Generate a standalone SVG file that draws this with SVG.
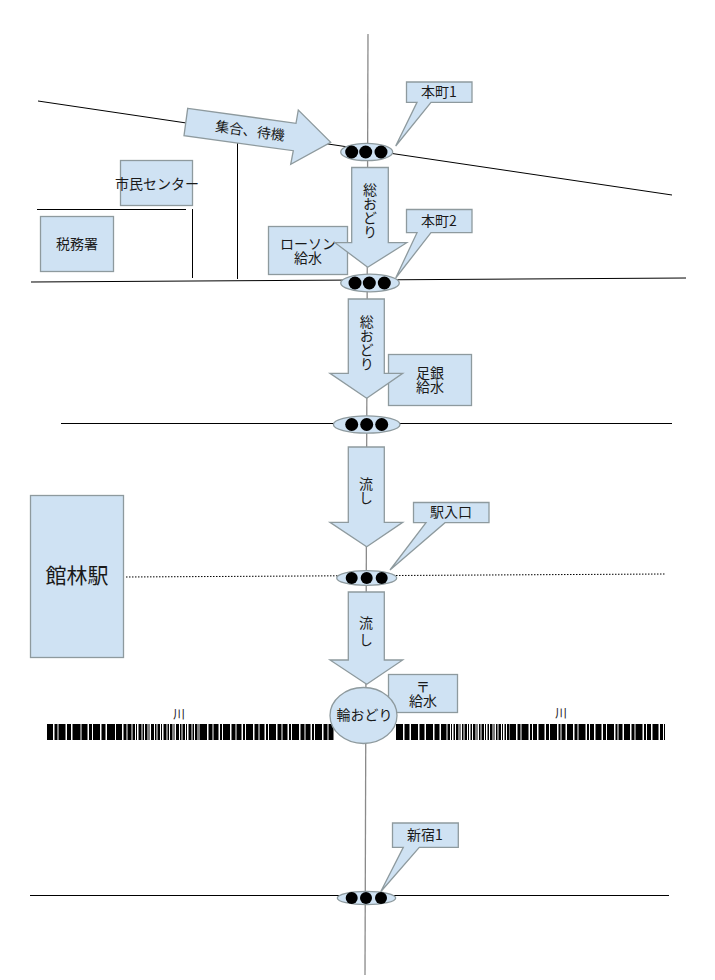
<svg xmlns="http://www.w3.org/2000/svg" width="715" height="980" viewBox="0 0 715 980">
<style>
text{font-family:"Noto Sans CJK JP","Liberation Sans",sans-serif;font-size:14px;fill:#1a1a1a;text-anchor:middle}
text.v{writing-mode:vertical-rl;text-anchor:start}
.b{fill:#cfe2f3;stroke:#8e9a9e;stroke-width:1.3}
.r{fill:none;stroke:#000;stroke-width:1}
.g{fill:none;stroke:#8a8a8a;stroke-width:1.3}
.e{fill:#cfe2f3;stroke:#8e9a9e;stroke-width:1.3}
.d{fill:#000}
.w{fill:none;stroke:#000;stroke-width:16}
</style>
<rect width="715" height="980" fill="#fff"/>
<g id="connectors">
<path class="g" d="M368 34L365 975"/>
<path class="r" d="M38 101L672 195"/>
<path class="r" d="M31 282L686 278"/>
<path class="r" d="M61 423.500H672"/>
<path class="r" d="M126 577L665 574" stroke-dasharray="1.5 1.5"/>
<path class="r" d="M30 895.500H669"/>
<path class="r" d="M37 209.500H186"/>
<path class="r" d="M192.500 209V278"/>
<path class="r" d="M237.500 143V279"/>
</g>
<g id="river">
<path class="w" d="M47 732H130" stroke-dasharray="6 1.500 3 1 7 1.500 4 1.500 8 1"/>
<path class="w" d="M130 732H200" stroke-dasharray="1.500 1 2.500 1 1 1.500 3 1"/>
<path class="w" d="M200 732H335" stroke-dasharray="7 1.500 4 1 5 1.500 2 1"/>
<path class="w" d="M396 732H445" stroke-dasharray="7 1.500 5 1.500"/>
<path class="w" d="M445 732H510" stroke-dasharray="1.500 1 2.500 1 1 1.500"/>
<path class="w" d="M510 732H665" stroke-dasharray="6 1.500 3 1 7 1.500 2 1 4 1.500"/>
<text x="179" y="719" style="font-size:12px">川</text>
<text x="561" y="718" style="font-size:12px">川</text>
</g>
<g id="shimin"><rect class="b" x="120.500" y="160.500" width="72" height="45"/><text x="157" y="189">市民センター</text></g>
<g id="zeimusho"><rect class="b" x="40.500" y="216.500" width="73" height="55"/><text x="77" y="249">税務署</text></g>
<g id="lawson"><rect class="b" x="268.500" y="226.500" width="79" height="48"/><text><tspan x="308" y="249">ローソン</tspan><tspan x="308" y="263">給水</tspan></text></g>
<g id="ashigin"><rect class="b" x="388.500" y="354.500" width="83" height="51"/><text><tspan x="430" y="378">足銀</tspan><tspan x="430" y="392">給水</tspan></text></g>
<g id="yubin"><rect class="b" x="388.500" y="674.500" width="69" height="38"/><text><tspan x="423" y="692">〒</tspan><tspan x="423" y="706">給水</tspan></text></g>
<g id="tatebayashi"><rect class="b" x="30.500" y="495.500" width="93" height="162"/><text x="77" y="583" style="font-size:21px">館林駅</text></g>
<g id="shugo"><path class="b" d="M187.700 108.300L296 123.300L298.300 110L330.700 142.300L290.700 164.300L293.300 150.700L184 135.700Z"/><text x="250" y="136" transform="rotate(8 250 131)">集合、待機</text></g>
<g id="arrow1"><path class="b" d="M351.700 167.500H388.300V242.700H406.700L367.700 267.300L335 242.700H351.700Z"/><text class="v" x="370" y="183">総おどり</text></g>
<g id="arrow2"><path class="b" d="M348.300 299H384.300V373.300H402.700L366.700 398.300L330 373.300H348.300Z"/><text class="v" x="366.700" y="315">総おどり</text></g>
<g id="arrow3"><path class="b" d="M348.300 447H384.300V522.300H402.700L366.700 546.700L330 522.300H348.300Z"/><text class="v" x="366" y="477">流し</text></g>
<g id="arrow4"><path class="b" d="M348.300 592H384.300V660H402.700L366.700 684.300L330 660H348.300Z"/><text class="v" x="366" y="616" style="letter-spacing:3px">流し</text></g>
<g id="wa-odori"><ellipse class="e" cx="363.500" cy="715.500" rx="33.500" ry="28"/><text x="364.500" y="720">輪おどり</text></g>
<g id="honmachi1"><path class="b" d="M406.500 82H472V102.300H431L395.700 146L417 102.300H406.500Z"/><text x="439" y="97">本町1</text></g>
<g id="honmachi2"><path class="b" d="M406.500 209.500H472V232.700H431L395.700 278L417 232.700H406.500Z"/><text x="439" y="226">本町2</text></g>
<g id="ekiiriguchi"><path class="b" d="M413.500 502.500H489V522.700H445L390 570L426 522.700H413.500Z"/><text x="451" y="517">駅入口</text></g>
<g id="shinjuku1"><path class="b" d="M392.500 823H458.300V847.300H419.300L380.700 891.700L403.300 847.300H392.500Z"/><text x="425" y="840">新宿1</text></g>
<g id="signal1"><ellipse class="e" cx="366.700" cy="152" rx="26" ry="8.700"/><circle class="d" cx="351.700" cy="152" r="6.500"/><circle class="d" cx="365.700" cy="152" r="6.500"/><circle class="d" cx="381" cy="152" r="6.500"/></g>
<g id="signal2"><ellipse class="e" cx="370" cy="283" rx="29.300" ry="8.800"/><circle class="d" cx="355" cy="283" r="6.500"/><circle class="d" cx="369.300" cy="283" r="6.500"/><circle class="d" cx="384.300" cy="283" r="6.500"/></g>
<g id="signal3"><ellipse class="e" cx="366.700" cy="424.500" rx="33.300" ry="8.700"/><circle class="d" cx="351.700" cy="424.500" r="6.500"/><circle class="d" cx="366.700" cy="424.500" r="6.500"/><circle class="d" cx="381.700" cy="424.500" r="6.500"/></g>
<g id="signal4"><ellipse class="e" cx="366.700" cy="578" rx="30" ry="7.400"/><circle class="d" cx="351.700" cy="578" r="6"/><circle class="d" cx="366.700" cy="578" r="6"/><circle class="d" cx="381.700" cy="578" r="6"/></g>
<g id="signal5"><ellipse class="e" cx="366.500" cy="898" rx="29.200" ry="6.700"/><circle class="d" cx="351.700" cy="898" r="6"/><circle class="d" cx="366" cy="898" r="6"/><circle class="d" cx="381" cy="898" r="6"/></g>
</svg>
